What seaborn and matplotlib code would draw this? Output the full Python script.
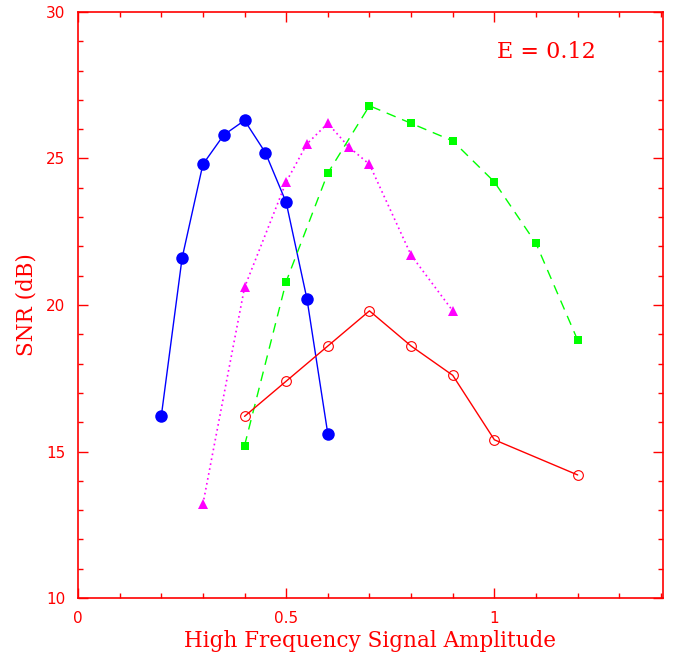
import matplotlib
matplotlib.use("Agg")
import matplotlib.pyplot as plt
import seaborn as sns
import pandas as pd
from matplotlib.ticker import MultipleLocator

# Data
blue_x = [0.2, 0.25, 0.3, 0.35, 0.4, 0.45, 0.5, 0.55, 0.6]
blue_y = [16.2, 21.6, 24.8, 25.8, 26.3, 25.2, 23.5, 20.2, 15.6]

magenta_x = [0.3, 0.4, 0.5, 0.55, 0.6, 0.65, 0.7, 0.8, 0.9]
magenta_y = [13.2, 20.6, 24.2, 25.5, 26.2, 25.4, 24.8, 21.7, 19.8]

green_x = [0.4, 0.5, 0.6, 0.7, 0.8, 0.9, 1.0, 1.1, 1.2]
green_y = [15.2, 20.8, 24.5, 26.8, 26.2, 25.6, 24.2, 22.1, 18.8]

red_x = [0.4, 0.5, 0.6, 0.7, 0.8, 0.9, 1.0, 1.2]
red_y = [16.2, 17.4, 18.6, 19.8, 18.6, 17.6, 15.4, 14.2]

x_label = "High Frequency Signal Amplitude"
y_label = "SNR (dB)"
annotation = "E = 0.12"

sns.set_style("white")
plt.rcParams['font.family'] = ['DejaVu Sans']

RED = "#ff0000"
fig = plt.figure(figsize=(6.74, 6.54), dpi=100)
ax = fig.add_axes([0.1157, 0.0856, 0.8680, 0.8961])

sns.lineplot(x=blue_x, y=blue_y, ax=ax, color="#0000ff", lw=1.0,
             marker="o", markersize=9, markeredgewidth=0, linestyle="-",
             sort=False, estimator=None)
sns.lineplot(x=magenta_x, y=magenta_y, ax=ax, color="#ff00ff", lw=1.2,
             marker="^", markersize=7, markeredgewidth=0, linestyle=(0, (1, 2)),
             sort=False, estimator=None)
sns.lineplot(x=green_x, y=green_y, ax=ax, color="#00ff00", lw=1.0,
             marker="s", markersize=6, markeredgewidth=0, linestyle=(0, (7, 5)),
             sort=False, estimator=None)
sns.lineplot(x=red_x, y=red_y, ax=ax, color=RED, lw=1.0,
             marker="o", markersize=7, markerfacecolor="none",
             markeredgecolor=RED, markeredgewidth=0.8, linestyle="-",
             sort=False, estimator=None)

ax.set_xlim(0, 1.405)
ax.set_ylim(10, 30)
ax.xaxis.set_major_locator(MultipleLocator(0.5))
ax.xaxis.set_minor_locator(MultipleLocator(0.1))
ax.yaxis.set_major_locator(MultipleLocator(5))
ax.yaxis.set_minor_locator(MultipleLocator(1))
ax.xaxis.set_major_formatter(matplotlib.ticker.FuncFormatter(lambda v, p: f"{v:g}"))
ax.yaxis.set_major_formatter(matplotlib.ticker.FuncFormatter(lambda v, p: f"{v:g}"))

for s in ax.spines.values():
    s.set_color(RED)
    s.set_linewidth(1.2)
ax.tick_params(which="both", direction="in", top=True, right=True,
               bottom=True, left=True, color=RED, labelcolor=RED, width=1.0)
ax.tick_params(which="major", length=7.5, labelsize=11, pad=9)
ax.tick_params(which="minor", length=3.5)

ax.set_xlabel(x_label, family="DejaVu Serif", fontsize=15.5, color=RED, labelpad=3)
ax.set_ylabel(y_label, family="DejaVu Serif", fontsize=15.5, color=RED, labelpad=6)
ax.text(0.716, 0.932, annotation, transform=ax.transAxes, family="DejaVu Serif",
        fontsize=16, color=RED, va="center", ha="left")

fig.savefig("out.png", dpi=100)
